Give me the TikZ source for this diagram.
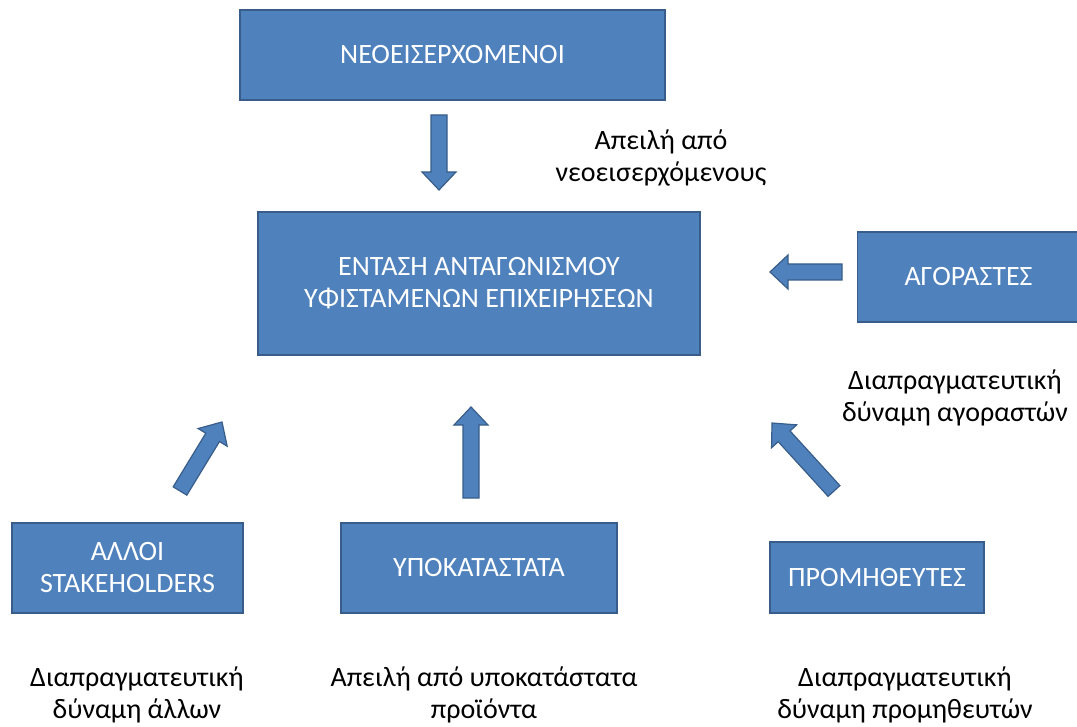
\documentclass[tikz,border=0pt]{standalone}
\usepackage{fontspec}
\setmainfont{Carlito}
\usetikzlibrary{calc}
\definecolor{boxfill}{HTML}{4F81BD}
\definecolor{boxline}{HTML}{385D8A}
\tikzset{
  box/.style={draw=boxline, line width=1.5pt, fill=boxfill, text=white, align=center,
    font=\fontsize{28}{32}\selectfont, inner sep=0pt},
  lbl/.style={align=center, font=\fontsize{28}{32}\selectfont, inner sep=0pt, text=black},
  barrowsty/.style={draw=boxline, line width=1.2pt, fill=boxfill, line join=miter}
}
\newcommand\sw{8pt}
\newcommand\hw{17pt}
\newcommand\hl{18pt}
\newcommand\blockarr[2]{%
  \coordinate (nk) at ($(#2)!\hl!(#1)$);
  \draw[barrowsty] ($(#1)!\sw!90:(#2)$) -- ($(nk)!\sw!90:(#2)$) -- ($(nk)!\hw!90:(#2)$)
    -- (#2) -- ($(nk)!\hw!-90:(#2)$) -- ($(nk)!\sw!-90:(#2)$) -- ($(#1)!\sw!-90:(#2)$) -- cycle;
}
\begin{document}
\begin{tikzpicture}[x=1pt,y=-1pt]
\useasboundingbox (0,0) rectangle (1077,727);
% boxes
\node[box, minimum width=425pt, minimum height=90pt] (neo) at (452.5,55) {ΝΕΟΕΙΣΕΡΧΟΜΕΝΟΙ};
\node[box, minimum width=442pt, minimum height=143pt] (ent) at (479,283.5) {ΈΝΤΑΣΗ ΑΝΤΑΓΩΝΙΣΜΟΥ\\ΥΦΙΣΤΑΜΕΝΩΝ ΕΠΙΧΕΙΡΗΣΕΩΝ};
\node[box, minimum width=222pt, minimum height=90pt] (agor) at (968.5,277) {ΑΓΟΡΑΣΤΕΣ};
\node[box, minimum width=231pt, minimum height=90pt] (allo) at (127.5,568) {ΑΛΛΟΙ\\STAKEHOLDERS};
\node[box, minimum width=276pt, minimum height=90pt] (ypo) at (479,568) {ΥΠΟΚΑΤΑΣΤΑΤΑ};
\node[box, minimum width=214pt, minimum height=71pt] (prom) at (877,577.5) {ΠΡΟΜΗΘΕΥΤΕΣ};
% labels
\node[lbl] (l1) at (661,158) {Απειλή από\\νεοεισερχόμενους};
\node[lbl] (l2) at (955,398) {Διαπραγματευτική\\δύναμη αγοραστών};
\node[lbl] (l3) at (137,695) {Διαπραγματευτική\\δύναμη άλλων};
\node[lbl] (l4) at (484,695) {Απειλή από υποκατάστατα\\προϊόντα};
\node[lbl] (l5) at (905,695) {Διαπραγματευτική\\δύναμη προμηθευτών};
% arrow end points
\coordinate (a1t) at (439,115);  \coordinate (a1h) at (439,190);
\coordinate (a2t) at (842,272);  \coordinate (a2h) at (770,272);
\coordinate (a3t) at (180,491);  \coordinate (a3h) at (222,422);
\coordinate (a4t) at (471,498);  \coordinate (a4h) at (471,407);
\coordinate (a5t) at (834,491);  \coordinate (a5h) at (772,423);
\blockarr{a1t}{a1h}
\blockarr{a2t}{a2h}
\blockarr{a3t}{a3h}
\blockarr{a4t}{a4h}
\blockarr{a5t}{a5h}
\end{tikzpicture}
\end{document}
